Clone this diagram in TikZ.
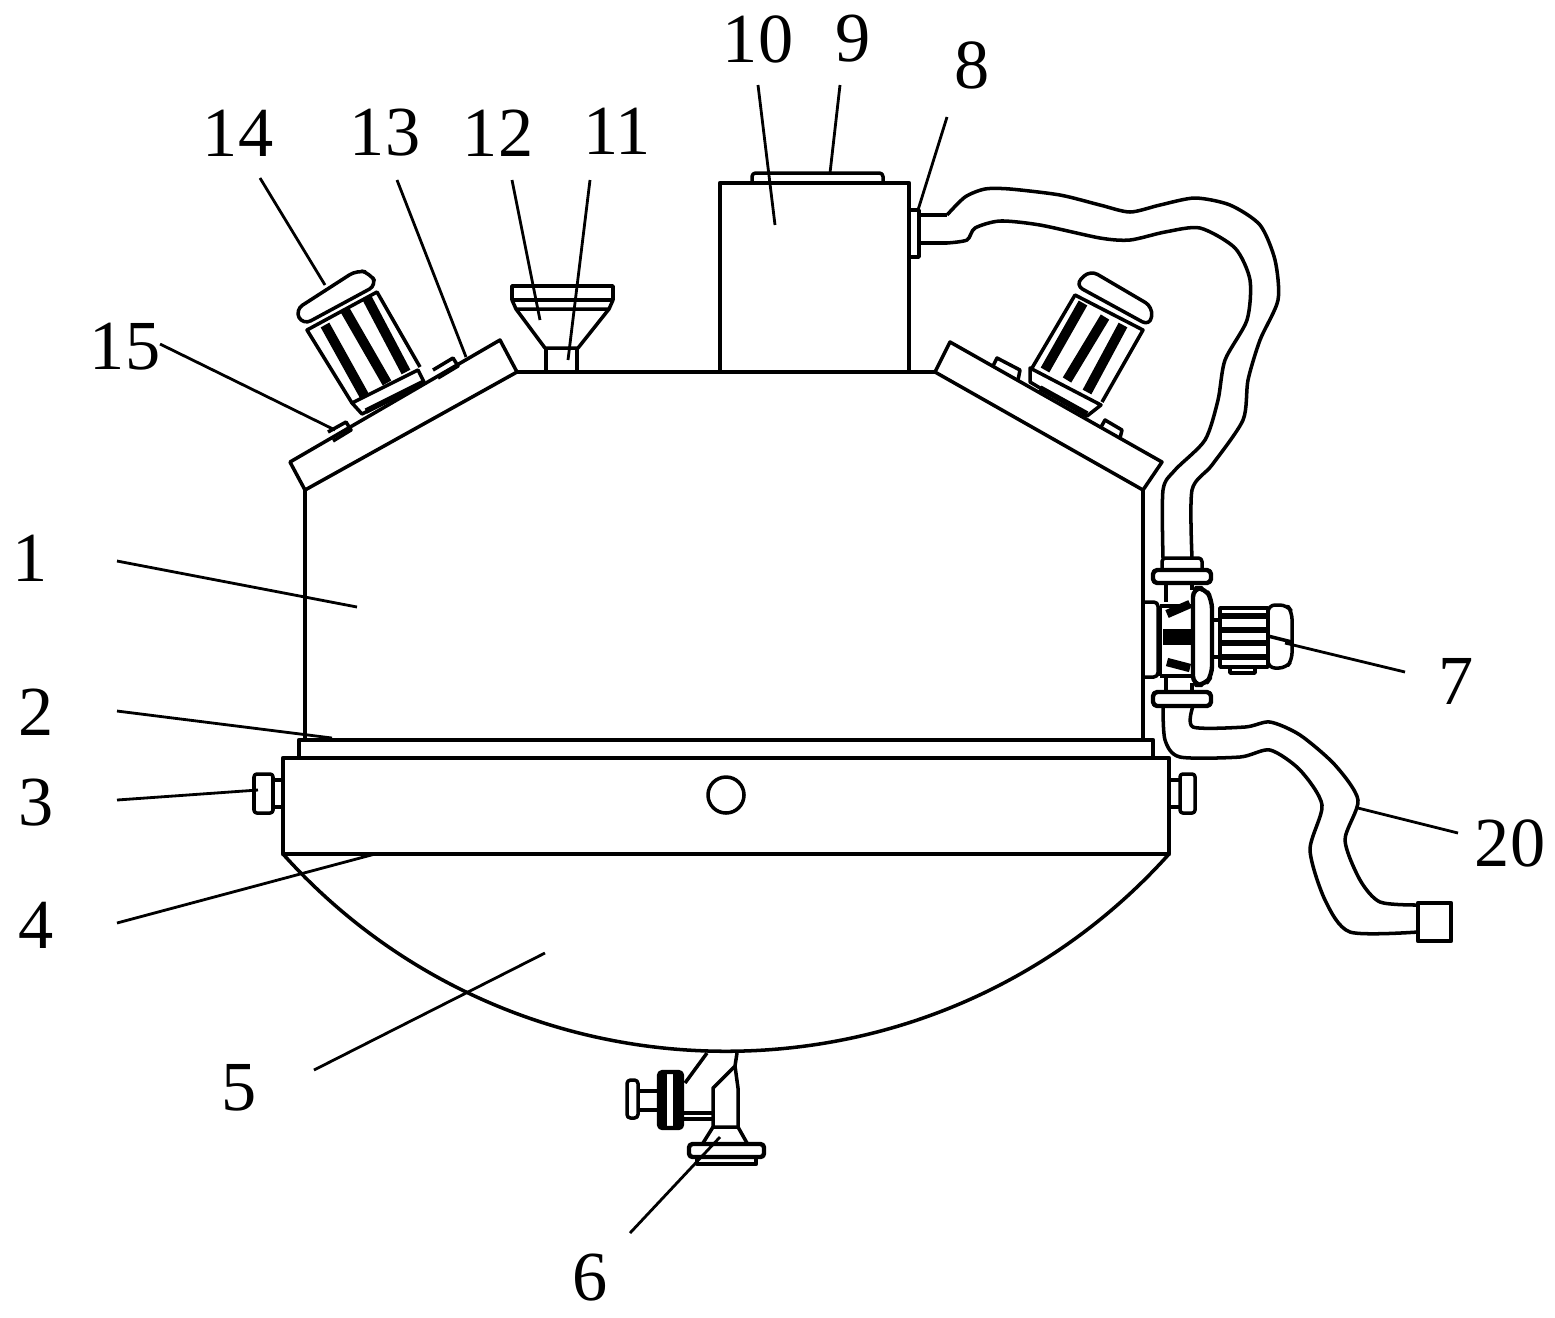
\documentclass[tikz,border=0pt]{standalone}
\usepackage{fontspec}
\setmainfont{Liberation Serif}
\tikzset{
    part/.style={line width=1pt, line join=round},
    heavy/.style={line width=1.25pt, line join=round},
    fin/.style={line width=2.8pt},
    rib/.style={line width=1.6pt},
    leader/.style={line width=0.8pt},
    numlabel/.style={font=\fontsize{20}{22}\selectfont, inner sep=0pt}
}
\begin{document}
\begin{tikzpicture}[x=0.01cm, y=-0.01cm]
            \useasboundingbox (0, 0) rectangle (1555, 1317);
            % vessel
            \draw[part] (305, 490) -- (305, 740);
            \draw[part] (1143, 490) -- (1143, 740);
            \draw[heavy] (517, 372) -- (935, 372);
            \draw[heavy] (299, 758) -- (299, 740) -- (1153, 740) -- (1153, 758);
            \draw[heavy] (283, 758) rectangle (1169, 854);
            \draw[part] (726, 795) circle (18);
            \draw[part] (283, 854) .. controls (519, 1117) and (933, 1117) .. (1169, 854);
            % side knobs
            \draw[part] (273, 780) -- (283, 780) (273, 807) -- (283, 807);
            \draw[part, rounded corners=0.8pt] (254, 774) rectangle (273, 813);
            \draw[part] (1169, 780) -- (1180, 780) (1169, 807) -- (1180, 807);
            \draw[part, rounded corners=0.8pt] (1180, 774) rectangle (1195, 813);
            % left cover and motor
            \draw[part] (305, 490) -- (290, 462) -- (500, 340) -- (517, 372) -- cycle;
            \draw[part] (328, 432) -- (346, 422) -- (351, 430) -- (333, 441);
            \draw[part] (433, 370) -- (453, 358) -- (458, 366) -- (438, 378);
            \draw[part] (352, 403) -- (418, 370) -- (424, 382) -- (362, 414) -- cycle;
            \draw[rib] (366, 411) -- (424, 382);
            \draw[part] (352, 403) -- (307, 330) -- (377, 292) -- (420, 367);
            \draw[fin] (325, 325) -- (365, 397);
            \draw[fin] (345, 310) -- (387, 383);
            \draw[fin] (367, 298) -- (406, 372);
            \draw[part, rounded corners=2.5pt] (303, 325) -- (295, 310) -- (357, 270) -- (370, 273) -- (377, 285) -- cycle;
            % right cover and motor
            \draw[part] (1143, 490) -- (1162, 462) -- (950, 342) -- (935, 372) -- cycle;
            \draw[part] (993, 366) -- (997, 358) -- (1020, 370) -- (1018, 380);
            \draw[part] (1101, 427) -- (1105, 420) -- (1122, 430) -- (1120, 438);
            \draw[part] (1030, 368) -- (1030, 382) -- (1087, 416) -- (1101, 405) -- cycle;
            \draw[rib] (1040, 388) -- (1087, 414);
            \draw[part] (1032, 368) -- (1075, 295) -- (1143, 330) -- (1102, 402);
            \draw[fin] (1083, 303) -- (1045, 370);
            \draw[fin] (1105, 317) -- (1067, 380);
            \draw[fin] (1123, 325) -- (1087, 392);
            \draw[part, rounded corners=2.5pt] (1075, 285) -- (1090, 270) -- (1153, 307) -- (1150, 326) -- cycle;
            % feed funnel
            \draw[part] (512, 286) rectangle (613, 300);
            \draw[part] (512, 300) -- (516, 309) -- (609, 309) -- (613, 300);
            \draw[part] (516, 309) -- (545, 348) -- (578, 348) -- (609, 309);
            \draw[part] (546, 348) -- (546, 372) (577, 348) -- (577, 372);
            % tank on top
            \draw[heavy] (720, 372) -- (720, 183) -- (909, 183) -- (909, 372);
            \draw[part, rounded corners=1pt] (752, 183) -- (752, 173) -- (883, 173) -- (883, 183);
            \draw[part] (910, 210) -- (919, 210) -- (919, 257) -- (910, 257);
            % hose to the pump
            \draw[part, smooth, tension=0.45] plot coordinates {(947, 215) (965, 197) (985, 189) (1010, 189) (1060, 195) (1100, 205) (1130, 212) (1160, 205) (1195, 198) (1230, 205) (1260, 225) (1275, 260) (1278, 300) (1260, 340) (1248, 380) (1243, 420) (1212, 465) (1192, 490) (1192, 558)};
            \draw[part] (919, 215) -- (947, 215);
            \draw[part, smooth, tension=0.45] plot coordinates {(947, 243) (967, 240) (975, 228) (1000, 221) (1040, 225) (1100, 238) (1130, 240) (1165, 232) (1200, 228) (1235, 248) (1250, 280) (1247, 320) (1225, 360) (1218, 400) (1205, 440) (1175, 470) (1163, 490) (1163, 558)};
            \draw[part] (919, 243) -- (947, 243);
            % pump
            \draw[part, rounded corners=1.2pt] (1145, 602) -- (1158, 602) -- (1158, 677) -- (1145, 677);
            \draw[part, rounded corners=1pt] (1162, 568) -- (1162, 558) -- (1202, 558) -- (1202, 568);
            \draw[heavy, rounded corners=1.2pt] (1153, 570) rectangle (1211, 583);
            \draw[part] (1166, 583) -- (1166, 602) (1192, 583) -- (1192, 590);
            \draw[part] (1166, 678) -- (1166, 692) (1192, 683) -- (1192, 692);
            \draw[heavy, rounded corners=1.2pt] (1153, 692) rectangle (1211, 706);
            \draw[part] (1160, 606) -- (1193, 606) (1160, 676) -- (1193, 676);
            \draw[part] (1160, 606) -- (1160, 676);
            \draw[line width=2.4pt] (1167, 614) -- (1190, 604);
            \draw[line width=4.4pt] (1163, 637) -- (1193, 637);
            \draw[line width=2.4pt] (1167, 662) -- (1190, 668);
            \draw[heavy, rounded corners=2.5pt] (1193, 588) -- (1205, 588) -- (1212, 600) -- (1212, 675) -- (1205, 685) -- (1193, 685) -- cycle;
            \draw[part] (1212, 620) -- (1220, 620) (1212, 657) -- (1220, 657);
            \draw[part] (1220, 608) rectangle (1268, 667);
            \draw[rib] (1222, 616) -- (1268, 616);
            \draw[rib] (1222, 630) -- (1268, 630);
            \draw[rib] (1222, 643) -- (1268, 643);
            \draw[rib] (1222, 657) -- (1268, 657);
            \draw[part, rounded corners=2pt] (1268, 605) -- (1287, 605) -- (1292, 612) -- (1292, 660) -- (1286, 668) -- (1268, 668) -- cycle;
            \draw[part] (1268, 636) -- (1292, 642);
            \draw[part] (1230, 667) -- (1230, 673) -- (1255, 673) -- (1255, 667);
            % hose to the outlet
            \draw[part, smooth, tension=0.45] plot coordinates {(1193, 706) (1193, 727) (1245, 727) (1270, 722) (1300, 735) (1335, 765) (1358, 800) (1345, 840) (1360, 880) (1380, 902) (1418, 905)};
            \draw[part, smooth, tension=0.45] plot coordinates {(1163, 706) (1165, 740) (1180, 757) (1240, 757) (1270, 750) (1300, 770) (1322, 805) (1310, 850) (1325, 900) (1350, 932) (1418, 932)};
            \draw[heavy] (1418, 903) rectangle (1451, 941);
            % drain valve
            \draw[part] (707, 1053) -- (685, 1083);
            \draw[part] (737, 1053) -- (735, 1066) -- (713, 1088) -- (713, 1127);
            \draw[part] (735, 1066) -- (738, 1088) -- (738, 1127);
            \draw[heavy, rounded corners=1pt] (659, 1072) rectangle (682, 1128);
            \draw[line width=2pt] (663, 1074) -- (663, 1126) (677, 1074) -- (677, 1126);
            \draw[part, rounded corners=1pt] (627, 1080) rectangle (638, 1118);
            \draw[part] (638, 1091) -- (659, 1091) (638, 1110) -- (659, 1110);
            \draw[part] (682, 1113) -- (713, 1113) (682, 1119) -- (713, 1119);
            \draw[part] (713, 1127) -- (738, 1127) -- (747, 1143) (713, 1127) -- (703, 1143);
            \draw[heavy, rounded corners=1pt] (689, 1144) rectangle (764, 1157);
            \draw[heavy] (697, 1157) -- (697, 1164) -- (756, 1164) -- (756, 1157);
            % labels and leaders
            \node[numlabel] (n1) at (30, 558) {1};
            \coordinate (a1) at (117, 561);
            \coordinate (b1) at (357, 607);
            \draw[leader] (a1) -- (b1);
            \node[numlabel] (n2) at (36, 712) {2};
            \coordinate (a2) at (117, 711);
            \coordinate (b2) at (332, 738);
            \draw[leader] (a2) -- (b2);
            \node[numlabel] (n3) at (36, 803) {3};
            \coordinate (a3) at (117, 800);
            \coordinate (b3) at (258, 790);
            \draw[leader] (a3) -- (b3);
            \node[numlabel] (n4) at (36, 925) {4};
            \coordinate (a4) at (117, 923);
            \coordinate (b4) at (375, 854);
            \draw[leader] (a4) -- (b4);
            \node[numlabel] (n5) at (239, 1088) {5};
            \coordinate (a5) at (314, 1070);
            \coordinate (b5) at (545, 953);
            \draw[leader] (a5) -- (b5);
            \node[numlabel] (n6) at (590, 1278) {6};
            \coordinate (a6) at (630, 1233);
            \coordinate (b6) at (720, 1137);
            \draw[leader] (a6) -- (b6);
            \node[numlabel] (n7) at (1456, 681) {7};
            \coordinate (a7) at (1405, 672);
            \coordinate (b7) at (1285, 643);
            \draw[leader] (a7) -- (b7);
            \node[numlabel] (n8) at (972, 65) {8};
            \coordinate (a8) at (947, 117);
            \coordinate (b8) at (918, 210);
            \draw[leader] (a8) -- (b8);
            \node[numlabel] (n9) at (853, 39) {9};
            \coordinate (a9) at (840, 85);
            \coordinate (b9) at (830, 173);
            \draw[leader] (a9) -- (b9);
            \node[numlabel] (n10) at (758, 39) {10};
            \coordinate (a10) at (758, 85);
            \coordinate (b10) at (775, 225);
            \draw[leader] (a10) -- (b10);
            \node[numlabel] (n11) at (617, 131) {11};
            \coordinate (a11) at (590, 180);
            \coordinate (b11) at (568, 360);
            \draw[leader] (a11) -- (b11);
            \node[numlabel] (n12) at (498, 133) {12};
            \coordinate (a12) at (512, 180);
            \coordinate (b12) at (540, 320);
            \draw[leader] (a12) -- (b12);
            \node[numlabel] (n13) at (385, 133) {13};
            \coordinate (a13) at (397, 180);
            \coordinate (b13) at (466, 357);
            \draw[leader] (a13) -- (b13);
            \node[numlabel] (n14) at (238, 133) {14};
            \coordinate (a14) at (260, 178);
            \coordinate (b14) at (325, 285);
            \draw[leader] (a14) -- (b14);
            \node[numlabel] (n15) at (125, 347) {15};
            \coordinate (a15) at (160, 344);
            \coordinate (b15) at (335, 430);
            \draw[leader] (a15) -- (b15);
            \node[numlabel] (n20) at (1510, 843) {20};
            \coordinate (a20) at (1458, 833);
            \coordinate (b20) at (1358, 808);
            \draw[leader] (a20) -- (b20);
        \end{tikzpicture}
\end{document}
